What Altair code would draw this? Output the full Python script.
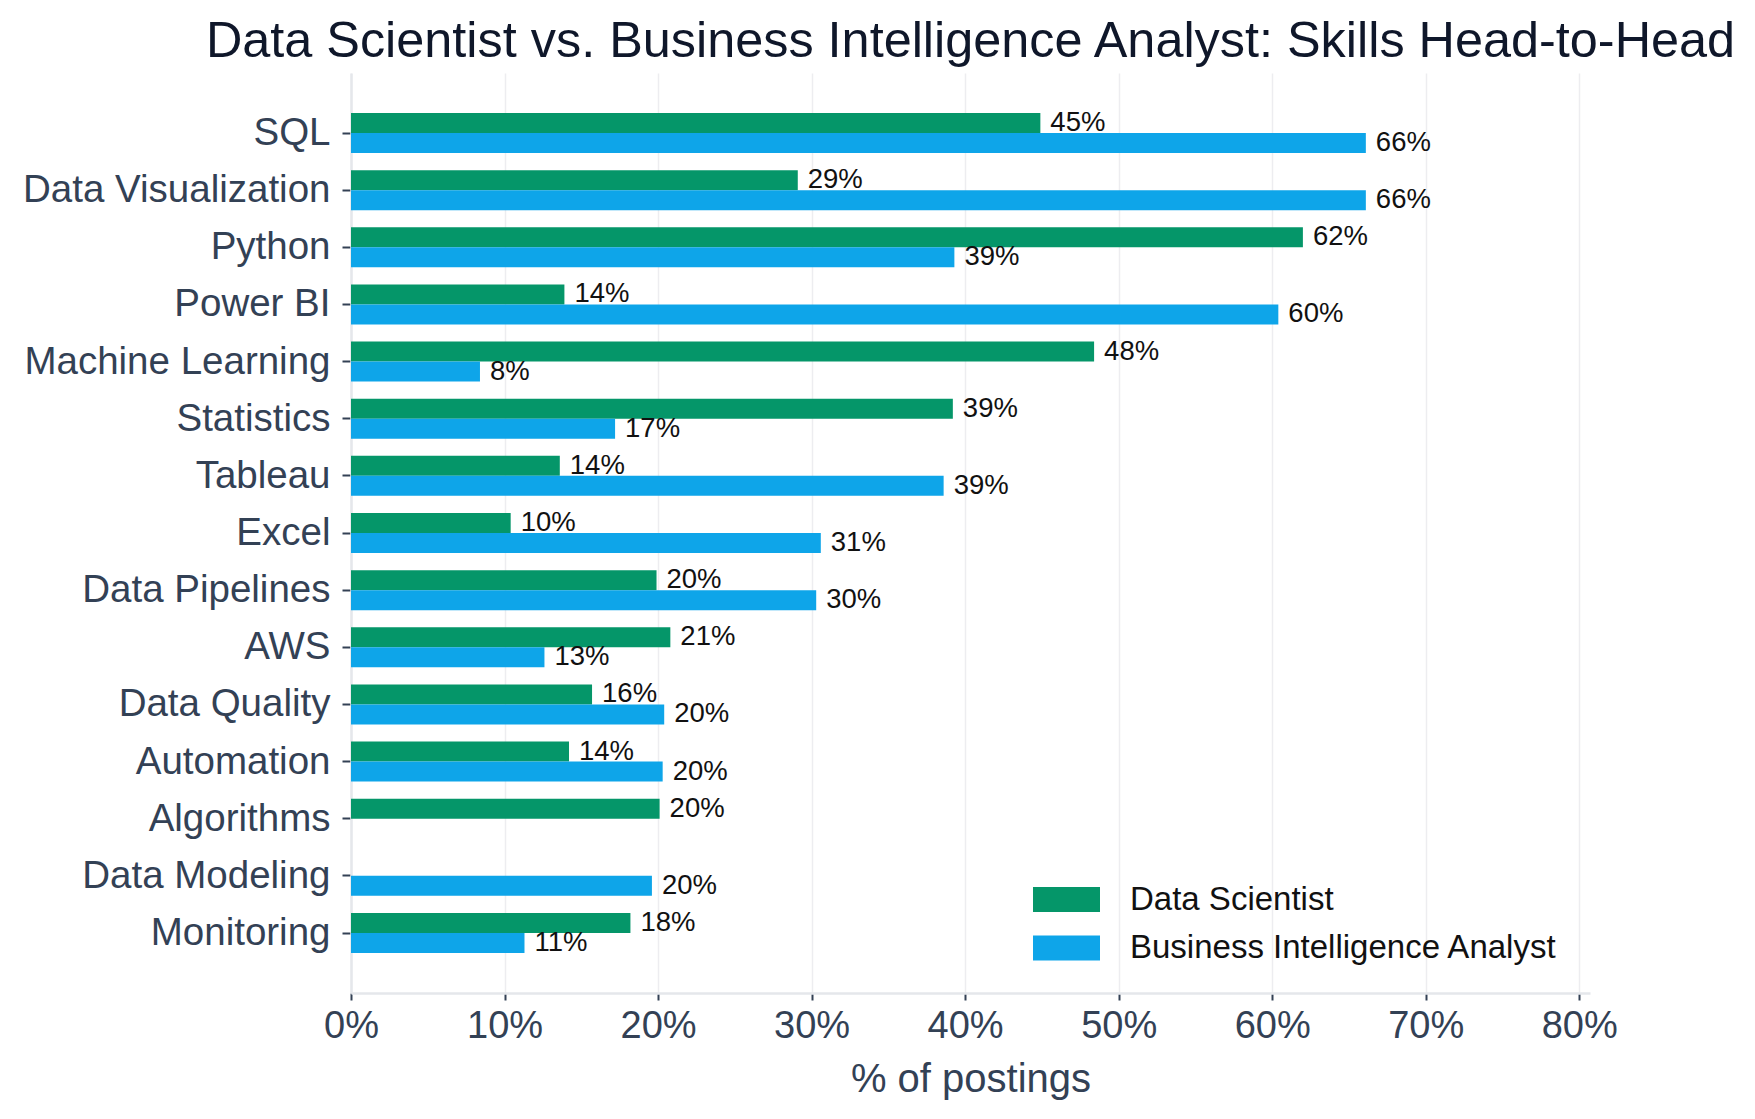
import altair as alt
import pandas as pd

skills = ["SQL", "Data Visualization", "Python", "Power BI", "Machine Learning",
          "Statistics", "Tableau", "Excel", "Data Pipelines", "AWS",
          "Data Quality", "Automation", "Algorithms", "Data Modeling", "Monitoring"]
series_names = ["Data Scientist", "Business Intelligence Analyst"]
ds_values = [44.9, 29.1, 62.0, 13.9, 48.4, 39.2, 13.6, 10.4, 19.9, 20.8, 15.7, 14.2, 20.1, None, 18.2]
bi_values = [66.1, 66.1, 39.3, 60.4, 8.4, 17.2, 38.6, 30.6, 30.3, 12.6, 20.4, 20.3, None, 19.6, 11.3]
x_ticks = [0, 10, 20, 30, 40, 50, 60, 70, 80]
colors = ["#059669", "#0ea5e9"]

rows = []
for s, d, b in zip(skills, ds_values, bi_values):
    if d is not None:
        rows.append({"skill": s, "series": series_names[0], "value": d})
    if b is not None:
        rows.append({"skill": s, "series": series_names[1], "value": b})
df = pd.DataFrame(rows)

FONT = "Liberation Sans"

base = alt.Chart(df).encode(
    y=alt.Y("skill:N", sort=skills, title=None,
            scale=alt.Scale(paddingInner=0, paddingOuter=0.55),
            axis=alt.Axis(labelFontSize=38.5, labelColor="#334155", labelFont=FONT,
                          labelLimit=0, labelPadding=12, tickSize=9, tickWidth=2,
                          tickColor="#334155", domainColor="#e5e7eb", domainWidth=2.5,
                          grid=False)),
    yOffset=alt.YOffset("series:N", sort=series_names,
                        scale=alt.Scale(paddingInner=0, paddingOuter=0.4286)),
)

bars = base.mark_bar().encode(
    x=alt.X("value:Q", title="% of postings",
            scale=alt.Scale(domain=[0, 80.7], nice=False),
            axis=alt.Axis(values=x_ticks, labelExpr="datum.value + '%'",
                          labelFlush=False, labelFontSize=38, labelColor="#334155",
                          labelFont=FONT, labelPadding=7, tickSize=7, tickWidth=2,
                          tickColor="#334155", domainColor="#e5e7eb", domainWidth=2.5,
                          grid=True, gridColor="#ededf0", gridWidth=1.5,
                          titleFontSize=40, titleFont=FONT, titleColor="#334155",
                          titleFontWeight="normal", titlePadding=14)),
    color=alt.Color("series:N", sort=series_names,
                    scale=alt.Scale(domain=series_names, range=colors),
                    legend=alt.Legend(title=None, orient="none", legendX=699, legendY=810,
                                      padding=0, labelLimit=0,
                                      symbolType="M-2.68,-1L2.68,-1L2.68,1L-2.68,1Z",
                                      symbolSize=625, symbolStrokeWidth=0,
                                      labelFontSize=33, labelFont=FONT, labelColor="#111111",
                                      labelOffset=47, rowPadding=14.5)),
)

labels = base.mark_text(align="left", baseline="middle", dx=10, fontSize=27.5,
                        font=FONT, color="#111111").encode(
    x=alt.X("value:Q"),
    text=alt.Text("label:N"),
).transform_calculate(label="format(datum.value, '.0f') + '%'")

chart = alt.layer(bars, labels).properties(
    width=1239, height=920,
    background="white",
    title=alt.TitleParams("Data Scientist vs. Business Intelligence Analyst: Skills Head-to-Head",
                          fontSize=50.4, font=FONT, color="#0f172a", fontWeight="normal",
                          anchor="middle", frame="group", offset=-45, baseline="bottom"),
    autosize=alt.AutoSizeParams(type="none"),
    padding={"left": 351, "top": 73, "right": 165, "bottom": 126},
).configure_view(stroke=None)

chart.save("out.html", embed_options={"renderer": "svg", "actions": False})
